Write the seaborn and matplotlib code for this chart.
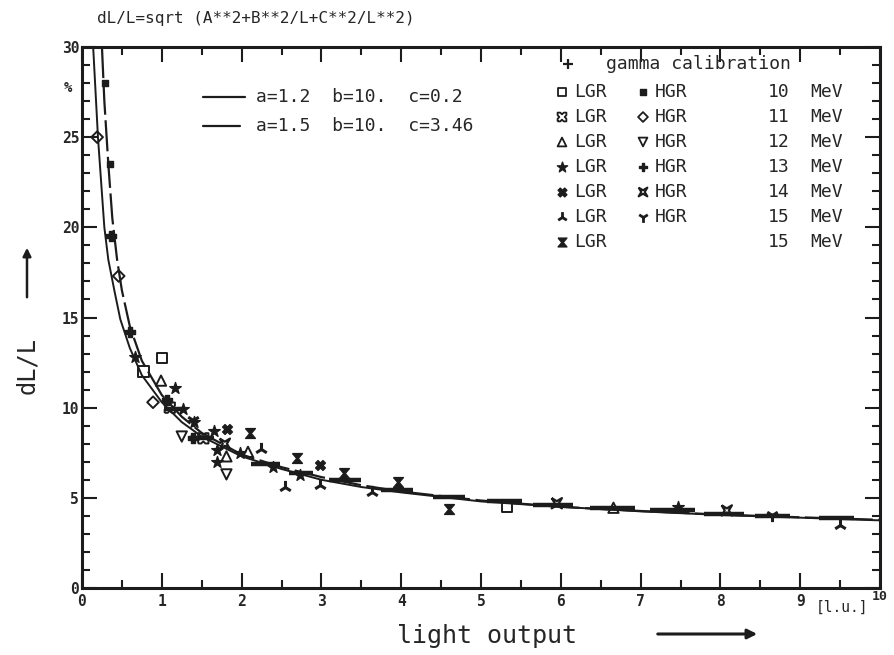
import numpy as np
import matplotlib
matplotlib.use("Agg")
import matplotlib.pyplot as plt
import seaborn as sns
import pandas as pd

# ---------------- data ----------------
fit_solid_L = [0.14, 0.20, 0.28, 0.33, 0.41, 0.48, 0.6, 0.75, 1.0, 1.25, 1.5, 2.0, 2.5, 3.0, 3.5, 4.0, 5.0, 6.0, 7.0, 8.0, 9.0, 10.0]
fit_solid_y = [30, 25, 20, 18.2, 16.4, 14.9, 13.3, 11.8, 10.3, 9.2, 8.4, 7.3, 6.6, 6.0, 5.6, 5.3, 4.8, 4.5, 4.25, 4.05, 3.9, 3.75]
fit_dash_L = [0.25, 0.28, 0.33, 0.38, 0.44, 0.5, 0.6, 0.75, 1.0, 1.25, 1.5, 2.0, 2.5, 3.0, 3.5, 4.0, 5.0, 6.0, 7.0, 8.0, 9.0, 10.0]
fit_dash_y = [30, 27, 23.5, 20.5, 18.2, 16.5, 14.5, 12.6, 10.7, 9.5, 8.6, 7.4, 6.7, 6.15, 5.7, 5.35, 4.85, 4.5, 4.27, 4.07, 3.92, 3.78]

gamma_x = [0.48, 0.96, 1.22, 2.57, 4.22]
gamma_y = [14.5, 9.5, 9.6, 7.05, 6.6]
lgr10_x = [1.0, 0.77, 5.33]
lgr10_y = [12.75, 12.0, 4.5]
hgr10_x = [0.29, 0.35]
hgr10_y = [28.0, 23.5]
lgr11_x = [1.52, 1.10]
lgr11_y = [8.3, 10.0]
hgr11_x = [0.19, 0.46, 0.89]
hgr11_y = [25.0, 17.3, 10.3]
lgr12_x = [0.99, 1.81, 2.08, 6.66]
lgr12_y = [11.5, 7.3, 7.55, 4.45]
hgr12_x = [1.25, 1.81]
hgr12_y = [8.4, 6.3]
lgr13_x = [0.66, 1.17, 1.27, 1.40, 1.65, 1.69, 1.69, 1.98, 2.39, 2.73, 7.47]
lgr13_y = [12.8, 11.1, 9.9, 9.2, 8.7, 7.65, 7.0, 7.5, 6.7, 6.25, 4.5]
hgr13_x = [0.36, 0.60, 1.06, 1.39]
hgr13_y = [19.5, 14.2, 10.4, 8.3]
lgr14_x = [1.82, 2.98]
lgr14_y = [8.8, 6.8]
hgr14_x = [1.79, 5.95, 8.08]
hgr14_y = [8.0, 4.7, 4.3]
lgr15_x = [2.24, 2.54, 2.98, 3.63, 9.5]
lgr15_y = [7.7, 5.6, 5.7, 5.3, 3.5]
hgr15_x = [8.65, 1.39]
hgr15_y = [4.05, 9.3]
lgr15b_x = [2.10, 2.69, 3.28, 3.96, 4.60]
lgr15b_y = [8.6, 7.2, 6.4, 5.9, 4.4]

# horizontal error bars lying along the curve
bar_x = [3.3, 3.95, 4.6, 5.3, 5.9, 6.65, 7.4, 8.05, 8.65, 9.45, 2.3, 2.75, 1.5, 1.15]
bar_y = [6.0, 5.45, 5.05, 4.8, 4.6, 4.42, 4.3, 4.12, 4.0, 3.9, 6.9, 6.4, 8.3, 9.9]
bar_w = [0.2, 0.2, 0.2, 0.22, 0.25, 0.28, 0.28, 0.25, 0.22, 0.22, 0.18, 0.15, 0.15, 0.12]

legend_lgr = ["10", "11", "12", "13", "14", "15", "15"]
title_text = "dL/L=sqrt (A**2+B**2/L+C**2/L**2)"

# ---------------- style ----------------
sns.set_style("ticks")
plt.rcParams["font.family"] = ["DejaVu Sans Mono", "DejaVu Sans"]

fig = plt.figure(figsize=(8.94, 6.55), dpi=100)
ax = fig.add_axes([82 / 894, (655 - 588) / 655, 798 / 894, 541 / 655])

col = "#1c1c1c"

sns.lineplot(x=fit_solid_L, y=fit_solid_y, ax=ax, color=col, lw=1.4, sort=False)
sns.lineplot(x=fit_dash_L, y=fit_dash_y, ax=ax, color=col, lw=1.6, sort=False)
ax.lines[-1].set_dashes([14, 2.5])

ax.errorbar(bar_x, bar_y, xerr=bar_w, fmt="none", ecolor=col, elinewidth=3.2, capsize=0)

hourglass = [(-1, 1), (1, 1), (0.15, 0), (1, -1), (-1, -1), (-0.15, 0), (-1, 1)]
notched = [(-1, -1), (-0.4, -1), (0, -0.6), (0.4, -1), (1, -1), (1, -0.4), (0.6, 0), (1, 0.4), (1, 1),
           (0.4, 1), (0, 0.6), (-0.4, 1), (-1, 1), (-1, 0.4), (-0.6, 0), (-1, -0.4), (-1, -1)]
bowtie = [(-1, 1), (0, 0.4), (1, 1), (0.4, 0), (1, -1), (0, -0.4), (-1, -1), (-0.4, 0), (-1, 1)]

series = [
    (gamma_x, gamma_y, "+", 70, "none", 1.4),
    (lgr10_x, lgr10_y, "s", 55, "none", 1.4),
    (hgr10_x, hgr10_y, "s", 22, col, 1.0),
    (lgr11_x, lgr11_y, notched, 55, "none", 1.4),
    (hgr11_x, hgr11_y, "D", 35, "none", 1.4),
    (lgr12_x, lgr12_y, "^", 55, "none", 1.4),
    (hgr12_x, hgr12_y, "v", 55, "none", 1.4),
    (lgr13_x, lgr13_y, "*", 75, col, 1.0),
    (hgr13_x, hgr13_y, "P", 50, col, 1.0),
    (lgr14_x, lgr14_y, "X", 50, col, 1.0),
    (hgr14_x, hgr14_y, bowtie, 55, "none", 1.6),
    (lgr15_x, lgr15_y, "2", 90, col, 2.2),
    (hgr15_x, hgr15_y, "1", 90, col, 2.2),
    (lgr15b_x, lgr15b_y, hourglass, 50, col, 1.0),
]
for sx, sy, mk, sz, fc, lw in series:
    df = pd.DataFrame({"x": sx, "y": sy})
    if fc == "none":
        ax.scatter(df["x"], df["y"], marker=mk, s=sz, facecolors="none", edgecolors=col, linewidths=lw, zorder=3)
    else:
        sns.scatterplot(data=df, x="x", y="y", ax=ax, marker=mk, s=sz, color=col, edgecolor=col,
                        linewidth=lw, zorder=3, legend=False)

# ---------------- axes ----------------
ax.set_xlim(0, 10)
ax.set_ylim(0, 30)
ax.set_xlabel("")
ax.set_ylabel("")
for s in ax.spines.values():
    s.set_visible(True)
    s.set_linewidth(2.2)
    s.set_color(col)
ax.set_xticks(range(0, 11))
ax.set_xticks(np.arange(0.5, 10, 1.0), minor=True)
ax.set_yticks(range(0, 31, 5))
ax.set_yticks(range(0, 31, 1), minor=True)
ax.tick_params(which="both", direction="in", top=True, right=True, color=col, width=1.5)
ax.tick_params(which="major", length=11)
ax.tick_params(which="minor", length=6)
ax.set_xticklabels([str(i) for i in range(0, 10)] + [""], fontsize=10.5, fontweight="bold")
ax.set_yticklabels([str(i) for i in range(0, 31, 5)], fontsize=10.5, fontweight="bold")
ax.tick_params(axis="x", pad=4)
ax.tick_params(axis="y", pad=2)

ax.text(-0.012, 0.925, "%", transform=ax.transAxes, ha="right", va="center", fontsize=10, fontweight="bold")
ax.text(1.0, -0.004, "10", transform=ax.transAxes, ha="center", va="top", fontsize=9.5, fontweight="bold")
ax.text((816 - 82) / 798, -0.022, "[l.u.]", transform=ax.transAxes, ha="left", va="top", fontsize=10.5)

fig.text(97 / 894, 1 - 18 / 655, title_text, ha="left", va="center", fontsize=11.5)

# axis labels with arrows
fig.text(0.545, 1 - 636 / 655, "light output", ha="center", va="center", fontsize=18)
fig.add_artist(matplotlib.patches.FancyArrowPatch((655 / 894, 1 - 634 / 655), (760 / 894, 1 - 634 / 655),
                                                  transform=fig.transFigure, arrowstyle="-|>",
                                                  mutation_scale=14, lw=2.2, color=col))
fig.text(27 / 894, 1 - 365 / 655, "dL/L", ha="center", va="center", fontsize=17, rotation=90)
fig.add_artist(matplotlib.patches.FancyArrowPatch((27 / 894, 1 - 300 / 655), (27 / 894, 1 - 245 / 655),
                                                  transform=fig.transFigure, arrowstyle="-|>",
                                                  mutation_scale=12, lw=1.8, color=col))

# fit legend
def d2a(px, py):
    return ((px - 82) / 798, (588 - py) / 541)

x0, y0 = d2a(203, 97)
x1, _ = d2a(245, 97)
ax.plot([x0, x1], [y0, y0], transform=ax.transAxes, color=col, lw=1.6)
x0b, y1 = d2a(203, 126)
x1b, _ = d2a(240, 126)
ax.plot([x0b, x1b], [y1, y1], transform=ax.transAxes, color=col, lw=1.6)
tx, _ = d2a(256, 97)
ax.text(tx, y0, "a=1.2  b=10.  c=0.2", transform=ax.transAxes, va="center", ha="left", fontsize=13)
ax.text(tx, y1, "a=1.5  b=10.  c=3.46", transform=ax.transAxes, va="center", ha="left", fontsize=13)

# marker legend
gx, gy = d2a(568, 64)
ax.scatter([gx], [gy], marker="+", s=60, color=col, linewidths=1.6, transform=ax.transAxes)
tx, _ = d2a(606, 64)
ax.text(tx, gy, "gamma calibration", transform=ax.transAxes, va="center", ha="left", fontsize=13)

rows_py = [92, 117, 142, 167, 192, 217, 242]
lgr_marks = [("s", 40, "none", 1.3), (notched, 40, "none", 1.3), ("^", 40, "none", 1.3), ("*", 60, col, 1.0),
             ("X", 40, col, 1.0), ("2", 60, col, 2.0), (hourglass, 40, col, 1.0)]
hgr_marks = [("s", 15, col, 1.0), ("D", 25, "none", 1.3), ("v", 40, "none", 1.3), ("P", 40, col, 1.0),
             (bowtie, 40, "none", 1.5), ("1", 60, col, 2.0), None]
for i, py in enumerate(rows_py):
    mx, my = d2a(562, py)
    mk, sz, fc, lw = lgr_marks[i]
    ax.scatter([mx], [my], marker=mk, s=sz, facecolors=fc, edgecolors=col, linewidths=lw, transform=ax.transAxes)
    lx, _ = d2a(574, py)
    ax.text(lx, my, "LGR", transform=ax.transAxes, va="center", ha="left", fontsize=13)
    if hgr_marks[i] is not None:
        hx, _ = d2a(643, py)
        mk, sz, fc, lw = hgr_marks[i]
        ax.scatter([hx], [my], marker=mk, s=sz, facecolors=fc, edgecolors=col, linewidths=lw, transform=ax.transAxes)
        hx2, _ = d2a(655, py)
        ax.text(hx2, my, "HGR", transform=ax.transAxes, va="center", ha="left", fontsize=13)
    nx, _ = d2a(790, py)
    ax.text(nx, my, legend_lgr[i], transform=ax.transAxes, va="center", ha="right", fontsize=13)
    ex, _ = d2a(810, py)
    ax.text(ex, my, "MeV", transform=ax.transAxes, va="center", ha="left", fontsize=13)

fig.savefig("out.png", dpi=100)
